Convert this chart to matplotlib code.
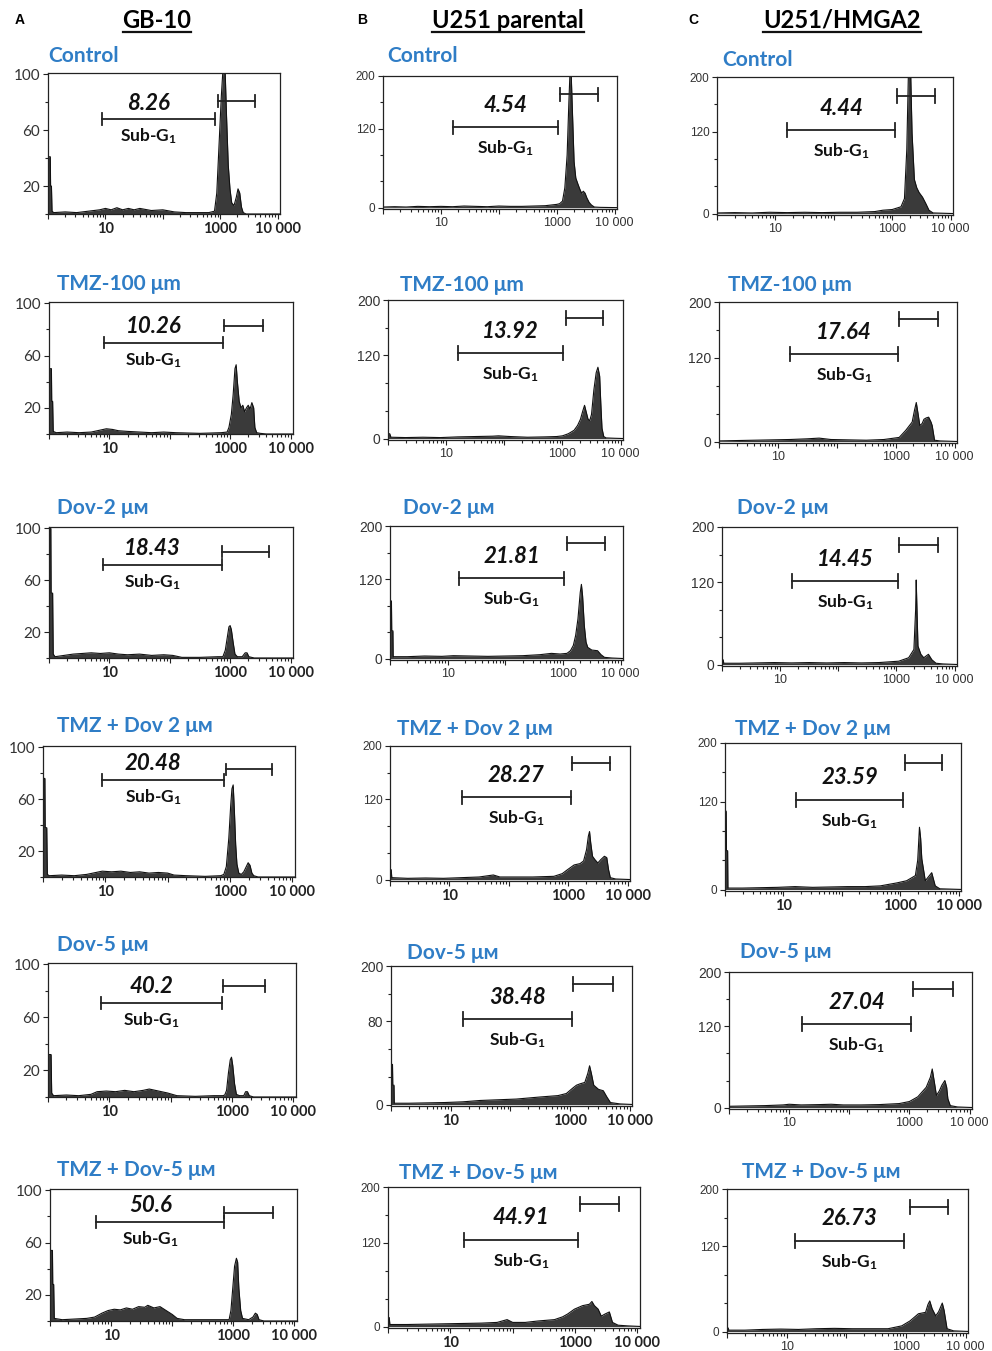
import numpy as np
import matplotlib
matplotlib.use("Agg")
import matplotlib.pyplot as plt
from matplotlib.lines import Line2D
from matplotlib.ticker import LogLocator, NullFormatter

plt.rcParams["font.family"] = ["Lato", "DejaVu Sans"]
plt.rcParams["mathtext.fontset"] = "custom"
plt.rcParams["mathtext.rm"] = "Lato"
plt.rcParams["mathtext.bf"] = "Lato:bold"
plt.rcParams["mathtext.it"] = "Lato:italic"

# ---- data ---------------------------------------------------------------
# histograms: (log10 DNA content, cell count)
cell_lines = ["GB-10", "U251 parental", "U251/HMGA2"]
treatments = ["Control", "TMZ-100 μm", "Dov-2 μᴍ", "TMZ + Dov 2 μᴍ",
              "Dov-5 μᴍ", "TMZ + Dov-5 μᴍ"]

gb10_pct = ["8.26", "10.26", "18.43", "20.48", "40.2", "50.6"]
u251_pct = ["4.54", "13.92", "21.81", "28.27", "38.48", "44.91"]
hmga2_pct = ["4.44", "17.64", "14.45", "23.59", "27.04", "26.73"]

gb10_ctrl = [(0, 41), (0.04, 41), (0.045, 20), (0.06, 20), (0.07, 2), (0.1, 1), (0.3, 1.5),
             (0.5, 1), (0.7, 2), (0.9, 3), (1.0, 4), (1.1, 3), (1.2, 4.5), (1.3, 3), (1.4, 4),
             (1.5, 3), (1.6, 4), (1.8, 2.5), (2.0, 3), (2.2, 1.5), (2.4, 1), (2.8, 1), (2.9, 2),
             (2.94, 15), (2.98, 50), (3.02, 85), (3.05, 105), (3.08, 110), (3.11, 70),
             (3.14, 35), (3.17, 18), (3.20, 8), (3.24, 6), (3.28, 12), (3.31, 18), (3.34, 15),
             (3.37, 5), (3.40, 1), (3.45, 0), (4.1, 0)]
gb10_tmz = [(0, 50), (0.04, 50), (0.045, 25), (0.06, 25), (0.07, 2), (0.12, 1), (0.3, 1.5),
            (0.5, 1), (0.7, 1.5), (0.85, 3), (0.95, 4), (1.05, 3.5), (1.15, 2.5), (1.3, 2),
            (1.5, 1.5), (1.7, 1), (1.9, 1.5), (2.1, 1), (2.5, 0.5), (2.85, 1), (2.95, 1.5),
            (2.98, 5), (3.02, 15), (3.05, 30), (3.08, 50), (3.10, 53), (3.12, 40), (3.15, 25),
            (3.18, 20), (3.21, 22), (3.24, 17), (3.27, 20), (3.30, 22), (3.33, 19),
            (3.36, 24), (3.39, 20), (3.41, 5), (3.44, 1), (3.5, 0.5), (3.6, 0), (4.1, 0)]
gb10_dov2 = [(0, 100), (0.03, 100), (0.035, 50), (0.06, 50), (0.07, 3), (0.1, 1), (0.25, 2),
             (0.4, 3), (0.55, 3.5), (0.7, 4), (0.85, 3.5), (1.0, 4), (1.15, 3), (1.3, 2.5),
             (1.5, 3), (1.7, 2), (1.9, 2.5), (2.05, 2), (2.2, 0.5), (2.5, 0.5), (2.8, 1),
             (2.88, 1), (2.92, 6), (2.95, 15), (2.98, 24), (3.00, 25), (3.02, 22), (3.05, 12),
             (3.08, 3), (3.12, 1), (3.2, 1), (3.25, 4), (3.28, 4), (3.31, 1), (3.4, 0), (4.1, 0)]
gb10_combo2 = [(0, 76), (0.03, 76), (0.035, 38), (0.06, 38), (0.07, 2), (0.1, 1), (0.3, 1.5),
               (0.5, 1), (0.7, 2), (0.8, 3), (0.95, 4.5), (1.1, 4), (1.25, 4.5), (1.4, 3.5),
               (1.55, 4), (1.7, 3), (1.85, 3.5), (2.0, 3), (2.1, 1.5), (2.3, 1), (2.6, 0.5),
               (2.85, 1), (2.90, 2), (2.94, 8), (2.98, 30), (3.01, 55), (3.03, 68), (3.05, 71),
               (3.07, 50), (3.09, 25), (3.11, 10), (3.14, 3), (3.18, 2), (3.22, 4), (3.26, 8),
               (3.29, 11), (3.32, 9), (3.35, 3), (3.38, 1), (3.45, 0), (4.1, 0)]
gb10_dov5 = [(0, 32), (0.05, 32), (0.06, 3), (0.09, 1), (0.3, 1.5), (0.5, 1), (0.7, 2),
             (0.8, 4), (0.95, 4.5), (1.1, 4), (1.25, 5), (1.4, 4), (1.55, 5), (1.65, 6),
             (1.8, 4.5), (1.95, 3), (2.1, 1), (2.4, 0.5), (2.7, 1), (2.85, 1), (2.88, 1.5),
             (2.91, 5), (2.94, 18), (2.97, 28), (2.99, 30), (3.01, 24), (3.04, 10), (3.07, 2),
             (3.12, 1), (3.19, 1), (3.22, 4), (3.25, 4), (3.28, 1), (3.35, 0), (4.1, 0)]
gb10_combo5 = [(0, 54), (0.04, 54), (0.045, 28), (0.06, 28), (0.07, 2), (0.2, 1), (0.4, 1.5),
               (0.6, 2), (0.73, 3), (0.85, 6), (0.95, 8), (1.05, 9), (1.15, 8.5), (1.25, 10),
               (1.35, 9), (1.45, 11), (1.55, 10.5), (1.6, 12), (1.7, 10), (1.8, 11), (1.9, 8),
               (2.0, 5), (2.08, 2), (2.2, 1), (2.5, 1), (2.93, 1), (2.96, 8), (2.99, 25),
               (3.02, 42), (3.05, 48), (3.07, 45), (3.09, 25), (3.12, 8), (3.15, 2), (3.25, 1),
               (3.32, 3), (3.36, 6), (3.39, 5), (3.42, 1), (3.5, 0), (4.1, 0)]

u251_ctrl = [(0, 1), (0.2, 1.5), (0.4, 1), (0.6, 2), (0.8, 1.5), (1.0, 2), (1.2, 1.5),
             (1.4, 2.5), (1.6, 2), (1.8, 1.5), (2.0, 2.5), (2.2, 2), (2.4, 2), (2.6, 2.5),
             (2.8, 3), (2.9, 4), (3.0, 5), (3.05, 6), (3.1, 10), (3.14, 30), (3.18, 80),
             (3.21, 160), (3.24, 230), (3.27, 150), (3.30, 70), (3.33, 45), (3.37, 35),
             (3.40, 28), (3.43, 22), (3.46, 25), (3.49, 22), (3.52, 15), (3.56, 8), (3.6, 4),
             (3.65, 1), (3.75, 0.5), (4.1, 0)]
u251_tmz = [(0, 7), (0.03, 7), (0.05, 2), (0.3, 1.5), (0.6, 2), (0.9, 1.5), (1.2, 2.5),
            (1.5, 3), (1.8, 3.5), (1.9, 4), (2.1, 3), (2.4, 2), (2.7, 2.5), (2.9, 3), (3.0, 4),
            (3.1, 7), (3.2, 12), (3.26, 19), (3.31, 28), (3.35, 40), (3.38, 48), (3.41, 38),
            (3.44, 28), (3.47, 26), (3.50, 35), (3.54, 70), (3.58, 95), (3.61, 103),
            (3.64, 90), (3.66, 50), (3.68, 15), (3.71, 3), (3.75, 1), (3.9, 0.5), (4.1, 0)]
u251_dov2 = [(0, 87), (0.025, 87), (0.03, 42), (0.05, 42), (0.055, 3), (0.3, 3), (0.6, 4),
             (0.9, 3.5), (1.1, 4.5), (1.4, 4), (1.7, 3.5), (2.0, 4), (2.3, 4.5), (2.6, 6),
             (2.8, 8), (2.95, 7), (3.07, 8), (3.13, 12), (3.18, 20), (3.22, 35), (3.26, 60),
             (3.28, 80), (3.30, 100), (3.32, 112), (3.34, 95), (3.37, 50), (3.40, 25),
             (3.43, 17), (3.5, 13), (3.6, 12), (3.66, 6), (3.72, 2), (3.85, 1), (4.1, 0)]
u251_combo2 = [(0, 15), (0.02, 15), (0.03, 3), (0.3, 2), (0.6, 2.5), (0.9, 2), (1.2, 3),
               (1.5, 4), (1.74, 7), (1.85, 4), (2.1, 4), (2.4, 4), (2.76, 5), (2.9, 9),
               (2.99, 15), (3.1, 22), (3.2, 24), (3.26, 28), (3.31, 45), (3.34, 65),
               (3.36, 72), (3.38, 55), (3.41, 35), (3.45, 30), (3.50, 25), (3.55, 30),
               (3.61, 35), (3.65, 33), (3.68, 15), (3.71, 3), (3.8, 1), (4.1, 0)]
u251_dov5 = [(0, 58), (0.025, 58), (0.03, 28), (0.05, 28), (0.055, 2), (0.3, 2), (0.6, 2.5),
             (0.9, 3), (1.2, 4), (1.5, 6), (1.8, 7), (2.1, 8), (2.5, 11), (2.8, 13),
             (2.94, 16), (3.05, 24), (3.11, 28), (3.17, 30), (3.25, 32), (3.30, 45),
             (3.33, 56), (3.36, 45), (3.40, 28), (3.48, 22), (3.56, 20), (3.62, 11),
             (3.68, 3), (3.84, 1), (4.1, 0)]
u251_combo5 = [(0, 13), (0.02, 13), (0.03, 3), (0.3, 3), (0.6, 3.5), (0.9, 4), (1.2, 4.5),
               (1.5, 5), (1.75, 6), (1.91, 10), (2.0, 6), (2.2, 6), (2.4, 8), (2.67, 10),
               (2.8, 14), (2.88, 18), (2.99, 25), (3.12, 30), (3.23, 32), (3.27, 36),
               (3.31, 30), (3.37, 25), (3.42, 15), (3.48, 18), (3.55, 21), (3.6, 6),
               (3.69, 2), (3.85, 1), (4.1, 0)]

hmga2_ctrl = [(0, 1), (0.3, 1.5), (0.6, 1), (0.9, 2), (1.2, 1.5), (1.5, 2), (1.8, 1.5),
              (2.1, 2), (2.4, 2), (2.7, 3), (2.84, 5), (3.0, 6), (3.15, 10), (3.21, 22),
              (3.25, 94), (3.28, 215), (3.31, 230), (3.34, 118), (3.38, 50), (3.42, 38),
              (3.46, 31), (3.52, 24), (3.58, 14), (3.63, 5), (3.7, 1), (4.1, 0)]
hmga2_tmz = [(0, 1), (0.3, 1.5), (0.6, 2), (0.9, 2.5), (1.2, 3), (1.5, 4), (1.7, 5),
             (1.9, 3), (2.2, 2.5), (2.5, 2), (2.8, 3), (3.06, 6), (3.17, 16), (3.28, 28),
             (3.32, 45), (3.35, 56), (3.38, 40), (3.41, 23), (3.45, 26), (3.48, 32),
             (3.52, 34), (3.56, 35), (3.60, 28), (3.62, 23), (3.66, 2), (3.75, 1), (4.1, 0)]
hmga2_dov2 = [(0, 7), (0.02, 7), (0.03, 2), (0.3, 2), (0.6, 2.5), (0.9, 3), (1.2, 2.5),
              (1.5, 3), (1.8, 2.5), (2.1, 3), (2.4, 2.5), (2.7, 3), (3.04, 5), (3.21, 10),
              (3.30, 22), (3.33, 80), (3.34, 123), (3.35, 90), (3.37, 27), (3.42, 15),
              (3.47, 10), (3.55, 15), (3.61, 7), (3.68, 2), (3.8, 1), (4.1, 0)]
hmga2_combo2 = [(0, 107), (0.02, 107), (0.025, 53), (0.045, 53), (0.05, 2), (0.3, 2),
                (0.6, 2.5), (0.9, 3), (1.2, 4), (1.5, 3), (1.8, 3.5), (2.1, 4), (2.4, 4),
                (2.66, 5), (2.94, 9), (3.11, 12), (3.26, 19), (3.30, 40), (3.33, 85),
                (3.35, 70), (3.37, 42), (3.43, 12), (3.49, 18), (3.54, 23), (3.6, 5),
                (3.68, 1), (4.1, 0)]
hmga2_dov5 = [(0, 2), (0.3, 2.5), (0.6, 3), (0.9, 4), (1.0, 5), (1.2, 4), (1.5, 4.5),
              (1.7, 5), (1.9, 4), (2.2, 4), (2.5, 4.5), (2.83, 6), (3.0, 9), (3.14, 16),
              (3.28, 30), (3.35, 45), (3.38, 57), (3.42, 35), (3.45, 18), (3.50, 25),
              (3.54, 33), (3.59, 40), (3.62, 30), (3.64, 13), (3.68, 3), (3.8, 1), (4.1, 0)]
hmga2_combo5 = [(0, 5), (0.02, 5), (0.03, 2), (0.3, 2), (0.6, 3), (0.9, 3.5), (1.2, 3),
                (1.5, 4), (1.8, 4.5), (2.1, 4), (2.4, 4), (2.7, 4), (2.93, 8), (3.07, 15),
                (3.21, 25), (3.33, 27), (3.37, 38), (3.40, 43), (3.44, 32), (3.50, 22),
                (3.55, 28), (3.61, 40), (3.64, 30), (3.69, 4), (3.8, 1), (4.1, 0)]

# gates: (left, right, height) for Sub-G1 and for G1 and above
gb10_sub = [(8.7, 810, 68), (8.1, 760, 70), (7.8, 730, 72), (8.8, 800, 75), (7.3, 680, 71), (5.7, 700, 76)]
gb10_g1 = [(910, 4000, 81), (790, 3500, 83), (730, 4400, 82), (860, 4700, 83), (710, 3450, 84), (700, 4450, 83)]
u251_sub = [(16, 1050, 122), (16, 1020, 123), (16, 1040, 121), (16, 1110, 123), (16, 1070, 123), (16.6, 1120, 124)]
u251_g1 = [(1140, 5100, 172), (1150, 5000, 174), (1170, 5300, 174), (1150, 5000, 174), (1120, 5200, 174), (1200, 5000, 176)]
hmga2_sub = [(16, 1120, 122), (16, 1100, 125), (16, 1070, 121), (16.6, 1120, 122), (16.2, 1070, 123), (13.8, 930, 127)]
hmga2_g1 = [(1200, 5400, 172), (1150, 5250, 176), (1100, 5100, 174), (1200, 5100, 173), (1150, 5250, 175), (1170, 5000, 175)]

gb10_hists = [gb10_ctrl, gb10_tmz, gb10_dov2, gb10_combo2, gb10_dov5, gb10_combo5]
u251_hists = [u251_ctrl, u251_tmz, u251_dov2, u251_combo2, u251_dov5, u251_combo5]
hmga2_hists = [hmga2_ctrl, hmga2_tmz, hmga2_dov2, hmga2_combo2, hmga2_dov5, hmga2_combo5]

# ---- layout (pixels in a 992 x 1351 canvas) -----------------------------
W, H = 992, 1351
boxes = [
    [(48, 73, 280, 214), (49, 302, 293, 434), (49, 527, 293, 658),
     (43, 746, 295, 877), (48, 963, 296, 1097), (50, 1189, 297, 1321)],
    [(383, 76, 617, 209), (388, 300, 623, 440), (390, 526, 623, 660),
     (390, 746, 630, 881), (391, 966, 632, 1106), (388, 1187, 640, 1328)],
    [(717, 77, 953, 215), (719, 302, 957, 443), (722, 527, 957, 666),
     (725, 743, 961, 891), (729, 972, 972, 1109), (727, 1189, 968, 1333)],
]
title_pos = [
    [(48, 56), (57, 284), (57, 508), (57, 726), (57, 945), (57, 1170)],
    [(387, 56), (400, 285), (403, 508), (397, 729), (407, 953), (399, 1173)],
    [(722, 60), (728, 285), (737, 508), (735, 729), (740, 952), (742, 1172)],
]
header_pos = [(157, 20), (508, 20), (842, 20)]
letter_pos = [(20, 20), (362, 20), (693, 20)]
BLUE = "#2f7dc6"
FILL = "#3a3a3a"


def fx(px):
    return px / W


def fy(py):
    return 1 - py / H


fig = plt.figure(figsize=(W / 100, H / 100), dpi=100)

columns = [
    (gb10_hists, gb10_sub, gb10_g1, gb10_pct),
    (u251_hists, u251_sub, u251_g1, u251_pct),
    (hmga2_hists, hmga2_sub, hmga2_g1, hmga2_pct),
]

headers = []
for c, (hists, subs, g1s, pcts) in enumerate(columns):
    fig.text(fx(letter_pos[c][0]), fy(letter_pos[c][1]), "ABC"[c], fontsize=10,
             fontweight="bold", family="Liberation Sans", ha="center", va="center")
    headers.append(fig.text(fx(header_pos[c][0]), fy(header_pos[c][1]), cell_lines[c],
                            fontsize=17, fontweight="bold", ha="center", va="center"))
    for r in range(6):
        L, T, R, B = boxes[c][r]
        ax = fig.add_axes([fx(L), fy(B), (R - L) / W, (B - T) / H])
        pts = np.array(hists[r], dtype=float)
        xs = 10 ** pts[:, 0]
        ax.fill_between(xs, pts[:, 1], 0, color=FILL, lw=0)
        ax.plot(xs, pts[:, 1], color="#111111", lw=0.8)

        ax.set_xscale("log")
        ax.set_xlim(1, 11000)
        ax.set_xticks([1, 10, 100, 1000, 10000])
        ax.xaxis.set_minor_locator(LogLocator(base=10, subs=np.arange(2, 10)))
        ax.xaxis.set_minor_formatter(NullFormatter())
        if c == 0:
            ax.set_ylim(0, 101)
            ax.set_yticks([20, 60, 100])
            ax.set_yticks([0, 40, 80], minor=True)
            ax.set_yticklabels(["20", "60", "100"], fontsize=11, color="#333333")
            ax.set_xticklabels(["", "10", "", "1000", "10 000"], fontsize=10.5,
                               fontweight="bold", color="#222222")
            cap, dnum, dsub = 4.5, 11.5, -12.5
        else:
            ax.set_ylim(-2, 200)
            ax.set_yticks([0, 120, 200])
            ax.set_yticks([40, 80, 160], minor=True)
            ylab = ["0", "80", "200"] if (c == 1 and r == 4) else ["0", "120", "200"]
            ysize = 10 if r in (1, 2, 4) else 8.5
            ax.set_yticklabels(ylab, fontsize=ysize, family="Liberation Sans", color="#333333")
            if r >= 3 and not (c == 2 and r >= 4):
                ax.set_xticklabels(["", "10", "", "1000", "10 000"], fontsize=10.5,
                                   fontweight="bold", color="#222222")
            else:
                ax.set_xticklabels(["", "10", "", "1000", "10 000"], fontsize=9,
                                   family="Liberation Sans", color="#333333")
            cap, dnum, dsub = 10, 16, -15

        ax.tick_params(which="both", direction="out", top=False, right=False, width=0.8,
                       color="#222222")
        ax.tick_params(which="major", length=3.5, pad=2)
        ax.tick_params(which="minor", length=2)
        for s in ax.spines.values():
            s.set_linewidth(0.9)
            s.set_color("#222222")

        # gates
        for (x1, x2, gy) in (subs[r], g1s[r]):
            ax.plot([x1, x2], [gy, gy], color="#222222", lw=1.3)
            ax.plot([x1, x1], [gy - cap, gy + cap], color="#222222", lw=1.3)
            ax.plot([x2, x2], [gy - cap, gy + cap], color="#222222", lw=1.3)
        x1, x2, gy = subs[r]
        xm = np.sqrt(x1 * x2)
        dx = -7 if c == 0 else 0
        ax.annotate(pcts[r], (xm, gy), xytext=(dx, dnum), textcoords="offset points",
                    ha="center", va="center", fontsize=16, fontweight="bold",
                    fontstyle="italic", color="#111111")
        ax.annotate(r"Sub-G$_{\mathbf{1}}$", (xm, gy), xytext=(dx, dsub),
                    textcoords="offset points", ha="center", va="center", fontsize=12.5,
                    fontweight="bold", color="#111111")

        tx, ty = title_pos[c][r]
        fig.text(fx(tx), fy(ty), treatments[r], fontsize=15, fontweight="bold",
                 color=BLUE, ha="left", va="center")

# underline the cell-line headers
fig.canvas.draw()
renderer = fig.canvas.get_renderer()
inv = fig.transFigure.inverted()
for t in headers:
    bb = t.get_window_extent(renderer).transformed(inv)
    fig.add_artist(Line2D([bb.x0, bb.x1], [bb.y0, bb.y0], color="#111111", lw=1.6,
                          transform=fig.transFigure))

fig.savefig("out.png", dpi=100)
